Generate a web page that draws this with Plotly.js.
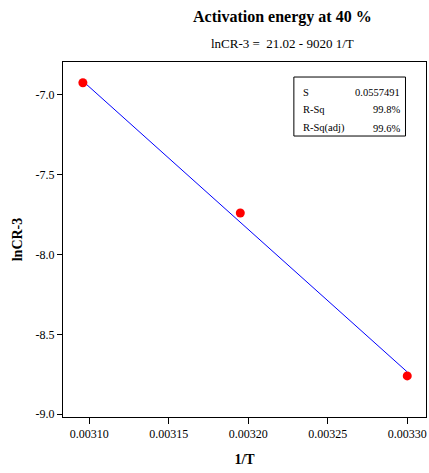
<!DOCTYPE html>
<html>
<head>
<meta charset="utf-8">
<script src="https://cdn.plot.ly/plotly-3.0.1.min.js"></script>
<style>html,body{margin:0;padding:0;background:#fff;}#chart{width:429px;height:473px;}</style>
</head>
<body>
<div id="chart"></div>
<script>
// Data
const invT = [0.003096, 0.003195, 0.003300];
const lnCR3 = [-6.925, -7.740, -8.760];
const fitX = [0.003096, 0.003300];
const fitY = [-6.915, -8.735];
const xTickVals = [0.00310, 0.00315, 0.00320, 0.00325, 0.00330];
const xTickText = ["0.00310", "0.00315", "0.00320", "0.00325", "0.00330"];
const yTickVals = [-9.0, -8.5, -8.0, -7.5, -7.0];
const yTickText = ["-9.0", "-8.5", "-8.0", "-7.5", "-7.0"];
const statLabels = ["S", "R-Sq", "R-Sq(adj)"];
const statValues = ["0.0557491", "99.8%", "99.6%"];
const titleText = "Activation energy at 40 %";
const subtitleText = "lnCR-3 =  21.02 - 9020 1/T";

const serif = "Liberation Serif, Times New Roman, serif";

const traces = [
  {x: fitX, y: fitY, type: "scatter", mode: "lines",
   line: {color: "#0000ff", width: 1}, hoverinfo: "skip"},
  {x: invT, y: lnCR3, type: "scatter", mode: "markers",
   marker: {color: "#ff0000", size: 9, line: {width: 0}}}
];

const rowY = [0.915, 0.865, 0.814];
const annotations = [
  {xref: "paper", yref: "paper", x: 0.606, y: 1.127, xanchor: "center", yanchor: "middle",
   text: "<b>" + titleText + "</b>", showarrow: false, font: {family: serif, size: 16, color: "#000"}},
  {xref: "paper", yref: "paper", x: 0.606, y: 1.0535, xanchor: "center", yanchor: "middle",
   text: subtitleText, showarrow: false, font: {family: serif, size: 13, color: "#000"}}
];
statLabels.forEach((lab, i) => {
  annotations.push({xref: "paper", yref: "paper", x: 0.6556, y: rowY[i], xanchor: "left", yanchor: "middle",
    text: lab, showarrow: false, font: {family: serif, size: 10.5, color: "#000"}});
  annotations.push({xref: "paper", yref: "paper", x: 0.934, y: rowY[i], xanchor: "right", yanchor: "middle",
    text: statValues[i], showarrow: false, font: {family: serif, size: 10.5, color: "#000"}});
});

const layout = {
  width: 429, height: 473,
  margin: {l: 63, r: 3, t: 62, b: 56},
  paper_bgcolor: "#fff", plot_bgcolor: "#fff",
  showlegend: false,
  font: {family: serif, color: "#000"},
  xaxis: {
    range: [0.0030835, 0.0033118], tickvals: xTickVals, ticktext: xTickText,
    ticks: "outside", ticklen: 6, tickwidth: 1, tickcolor: "#000",
    showline: true, linecolor: "#000", linewidth: 1, mirror: true,
    showgrid: false, zeroline: false,
    tickfont: {family: serif, size: 12, color: "#000"},
    title: {text: "<b>1/T</b>", font: {family: serif, size: 14, color: "#000"}, standoff: 13}
  },
  yaxis: {
    range: [-9.017, -6.795], tickvals: yTickVals, ticktext: yTickText,
    ticks: "outside", ticklen: 5, tickwidth: 1, tickcolor: "#000",
    showline: true, linecolor: "#000", linewidth: 1, mirror: true,
    showgrid: false, zeroline: false,
    tickfont: {family: serif, size: 12, color: "#000"},
    title: {text: "<b>lnCR-3</b>", font: {family: serif, size: 14, color: "#000"}, standoff: 9}
  },
  shapes: [
    {type: "rect", xref: "paper", yref: "paper", x0: 0.636, x1: 0.9435, y0: 0.7915, y1: 0.9577,
     line: {color: "#000", width: 1}, fillcolor: "rgba(0,0,0,0)"}
  ],
  annotations: annotations
};

Plotly.newPlot("chart", traces, layout, {displayModeBar: false, staticPlot: true});
</script>
</body>
</html>
